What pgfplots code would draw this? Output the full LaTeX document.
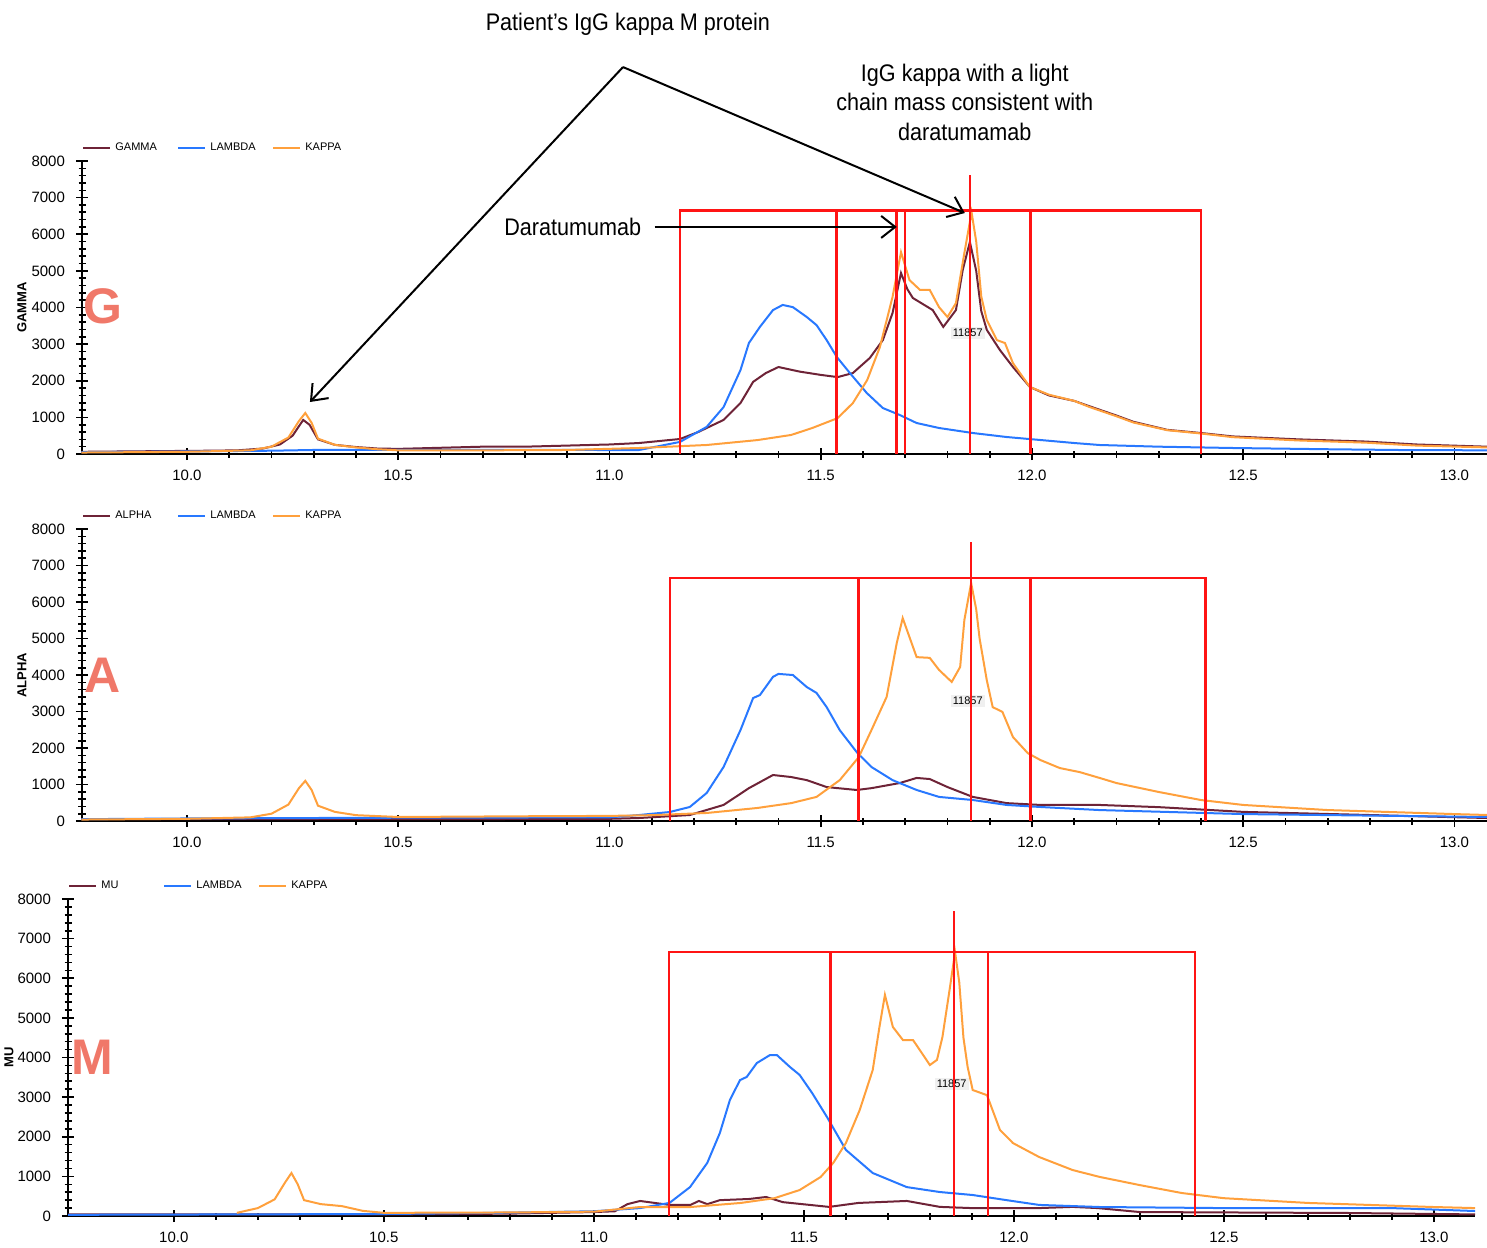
\documentclass[border=0pt]{standalone}
\usepackage{fontspec}
\setmainfont{Liberation Sans}
\newfontfamily\narrowsans[FakeStretch=0.9]{Liberation Sans}
\usepackage{pgfplots}
\pgfplotsset{compat=1.18}
\usetikzlibrary{arrows.meta}

\definecolor{hchain}{RGB}{110,35,55}
\definecolor{lambdac}{RGB}{40,120,255}
\definecolor{kappac}{RGB}{255,160,60}
\definecolor{boxred}{RGB}{255,20,20}
\definecolor{salmon}{RGB}{240,120,105}

\tikzset{
  mass/.style={fill=gray!12, inner sep=1pt, font=\fontsize{5.5}{6}\selectfont},
  bigletter/.style={text=salmon, font=\fontsize{25}{25}\selectfont\bfseries},
}
\pgfplotsset{
  msplot/.style={
    scale only axis, width=702.5pt, height=146.5pt,
    xmin=9.7515, xmax=13.077, ymin=0, ymax=8000,
    axis lines=left, axis line style={-, line width=1pt, black},
    clip=false,
    xtick={10,10.5,11,11.5,12,12.5,13}, minor x tick num=4,
    ytick={0,1000,...,8000}, minor y tick num=4,
    tick align=center, major tick length=6pt, minor tick length=3.5pt,
    every tick/.style={black, line width=0.8pt},
    /pgf/number format/assume math mode=true,
    /pgf/number format/1000 sep={},
    tick label style={font=\fontsize{7.5}{9}\selectfont},
    x tick label style={/pgf/number format/fixed, /pgf/number format/fixed zerofill,
      /pgf/number format/precision=1, yshift=-1.5pt},
    y tick label style={xshift=-2pt},
    ylabel style={font=\fontsize{6.5}{7}\selectfont\bfseries,
      at={(axis description cs:-0.0427,0.5)}, anchor=center},
    legend style={at={(0,1)}, anchor=south west, draw=none, fill=none,
      inner sep=0pt, yshift=1.5pt, legend columns=3,
      font=\fontsize{5.5}{6}\selectfont,
      /tikz/every even column/.append style={column sep=0pt}},
    legend image code/.code={\draw[#1, line width=1pt] (0pt,0pt) -- (13.5pt,0pt);},
    legend cell align=left,
  },
  heavy/.style={hchain, line width=1pt},
  lam/.style={lambdac, line width=1pt},
  kap/.style={kappac, line width=1pt},
  rbox/.style={color=boxred, line width=1.3pt, forget plot},
  rline/.style={color=boxred, line width=0.9pt, forget plot},
}

\begin{document}
\begin{tikzpicture}
\useasboundingbox (0pt,0pt) rectangle (743.5pt,-623.5pt);

% ---------------- G panel ----------------
\begin{axis}[msplot, at={(41pt,-227pt)}, anchor=south west, ylabel={GAMMA}]
\addplot[heavy] coordinates {
(9.75,60) (9.85,70) (9.95,80) (10.05,90) (10.12,100) (10.18,150) (10.22,260)
(10.25,500) (10.275,930) (10.29,800) (10.31,400) (10.35,250) (10.40,190)
(10.45,150) (10.50,140) (10.6,170) (10.7,200) (10.8,200) (10.9,230) (11.0,260)
(11.07,300) (11.167,410) (11.21,600) (11.27,930) (11.31,1390) (11.34,1970)
(11.37,2210) (11.40,2375) (11.45,2250) (11.50,2160) (11.54,2100) (11.576,2210)
(11.616,2620) (11.647,3110) (11.67,3850) (11.69,4940) (11.705,4500) (11.718,4260)
(11.765,3930) (11.79,3470) (11.82,3930) (11.836,5020) (11.853,5790)
(11.868,5000) (11.88,3900) (11.893,3390) (11.924,2840) (11.955,2375) (11.995,1830)
(12.04,1600) (12.1,1450) (12.137,1300) (12.2,1050) (12.24,880) (12.32,660)
(12.40,573) (12.475,480) (12.63,400) (12.79,340) (12.91,260) (13.077,200)};
\addlegendentry{\makebox[29pt][l]{GAMMA}}
\addplot[lam] coordinates {
(9.75,50) (9.9,60) (10.0,70) (10.2,90) (10.3,110) (10.5,110) (10.8,110)
(11.07,109) (11.167,330) (11.23,740) (11.27,1280) (11.31,2290) (11.33,3030)
(11.356,3470) (11.387,3930) (11.41,4070) (11.434,4010) (11.467,3740)
(11.49,3520) (11.514,3110) (11.538,2650) (11.569,2210) (11.609,1665)
(11.647,1255) (11.687,1065) (11.727,846) (11.78,710) (11.86,573) (11.94,464)
(12.02,382) (12.10,300) (12.16,246) (12.3,200) (12.475,164) (12.7,130)
(12.87,109) (13.077,100)};
\addlegendentry{\makebox[29pt][l]{LAMBDA}}
\addplot[kap] coordinates {
(9.75,40) (10.0,60) (10.15,100) (10.2,200) (10.24,450) (10.265,900)
(10.28,1120) (10.295,850) (10.31,420) (10.35,250) (10.4,180) (10.45,130)
(10.5,100) (10.7,100) (10.9,110) (11.07,164) (11.23,246) (11.35,380)
(11.43,520) (11.48,710) (11.54,980) (11.576,1390) (11.61,2020) (11.64,2920)
(11.67,4290) (11.69,5510) (11.71,4750) (11.735,4480) (11.758,4480)
(11.78,4010) (11.80,3740) (11.82,4120) (11.84,5490) (11.857,6600)
(11.868,5800) (11.88,4300) (11.893,3660) (11.917,3110) (11.936,3030) (11.955,2480)
(11.995,1830) (12.04,1620) (12.1,1450) (12.137,1280) (12.2,1030) (12.24,860)
(12.32,650) (12.40,560) (12.475,460) (12.63,370) (12.79,310) (12.91,230)
(13.077,180)};
\addlegendentry{\makebox[29pt][l]{KAPPA}}
\node[mass] at (axis cs:11.848,3300) {11857};
\addplot[rbox] coordinates {(11.167,0) (11.167,6650) (12.40,6650) (12.40,0)};
\addplot[rbox] coordinates {(11.538,0) (11.538,6650)};
\addplot[rbox] coordinates {(11.680,0) (11.680,6650)};
\addplot[rbox] coordinates {(11.699,0) (11.699,6650)};
\addplot[rbox] coordinates {(11.997,0) (11.997,6650)};
\addplot[rline] coordinates {(11.853,0) (11.853,7620)};
\node[bigletter] at (axis cs:9.80,4040) {G};
% annotations
\node[font=\narrowsans\fontsize{12}{14.75}\selectfont] at (axis cs:11.0435,11740)
  {Patient’s IgG kappa M protein};
\node[font=\narrowsans\fontsize{12}{14.75}\selectfont, align=center] at (axis cs:11.841,9610)
  {IgG kappa with a light\\chain mass consistent with\\daratumamab};
\draw[line width=1pt, -{Straight Barb[length=7pt,width=11pt]}]
  (axis cs:11.032,10565) -- (axis cs:10.291,1420);
\draw[line width=1pt, -{Straight Barb[length=7pt,width=11pt]}]
  (axis cs:11.032,10565) -- (axis cs:11.841,6580);
\node[font=\narrowsans\fontsize{12}{14.75}\selectfont] at (axis cs:10.913,6200) {Daratumumab};
\draw[line width=1pt, -{Straight Barb[length=7pt,width=11pt]}]
  (axis cs:11.107,6200) -- (axis cs:11.68,6200);
\end{axis}

% ---------------- A panel ----------------
\begin{axis}[msplot, at={(41pt,-410.5pt)}, anchor=south west, height=146pt, ylabel={ALPHA}]
\addplot[heavy] coordinates {
(9.75,50) (10.0,50) (10.5,50) (11.0,60) (11.07,82) (11.19,164) (11.27,440)
(11.33,900) (11.387,1260) (11.43,1205) (11.467,1120) (11.514,930) (11.585,850)
(11.62,900) (11.687,1040) (11.727,1180) (11.758,1150) (11.80,930) (11.86,660)
(11.94,490) (12.02,440) (12.16,440) (12.3,380) (12.5,250) (12.8,164)
(13.077,82)};
\addlegendentry{\makebox[29pt][l]{ALPHA}}
\addplot[lam] coordinates {
(9.75,50) (10.0,70) (10.5,90) (11.0,100) (11.07,164) (11.143,247) (11.19,384)
(11.23,767) (11.27,1480) (11.31,2490) (11.34,3370) (11.356,3450) (11.387,3950)
(11.40,4030) (11.434,4000) (11.467,3670) (11.49,3510) (11.514,3120)
(11.545,2490) (11.585,1890) (11.62,1480) (11.67,1120) (11.727,850) (11.78,660)
(11.86,575) (11.94,440) (12.02,384) (12.16,300) (12.5,190) (13.077,110)};
\addlegendentry{\makebox[29pt][l]{LAMBDA}}
\addplot[kap] coordinates {
(9.75,40) (10.0,60) (10.15,100) (10.2,200) (10.24,450) (10.265,900)
(10.28,1100) (10.295,850) (10.31,420) (10.35,250) (10.4,160) (10.5,110)
(10.8,130) (11.0,140) (11.1,160) (11.23,220) (11.35,357) (11.43,490)
(11.49,660) (11.545,1120) (11.59,1750) (11.62,2490) (11.656,3400) (11.68,4880)
(11.694,5560) (11.71,5040) (11.727,4490) (11.758,4470) (11.78,4140)
(11.81,3810) (11.83,4220) (11.84,5510) (11.856,6520) (11.868,5800) (11.876,5000)
(11.893,3860) (11.907,3120) (11.93,2990) (11.955,2300) (11.99,1860)
(12.02,1670) (12.066,1450) (12.113,1340) (12.16,1180) (12.2,1040) (12.3,795)
(12.4,575) (12.5,440) (12.7,300) (13.0,190) (13.077,165)};
\addlegendentry{\makebox[29pt][l]{KAPPA}}
\node[mass] at (axis cs:11.848,3290) {11857};
\addplot[rbox] coordinates {(11.143,0) (11.143,6657) (12.41,6657) (12.41,0)};
\addplot[rbox] coordinates {(11.59,0) (11.59,6657)};
\addplot[rbox] coordinates {(11.997,0) (11.997,6657)};
\addplot[rline] coordinates {(11.856,0) (11.856,7640)};
\node[bigletter] at (axis cs:9.80,4000) {A};
\end{axis}

% ---------------- M panel ----------------
\begin{axis}[msplot, at={(34pt,-608pt)}, anchor=south west, width=703.5pt, height=158.5pt,
  xmin=9.748, xmax=13.098, ylabel={MU},
  ylabel style={at={(axis description cs:-0.042,0.5)}}]
\addplot[heavy] coordinates {
(9.748,40) (10.5,40) (10.8,60) (11.0,100) (11.05,120) (11.08,300) (11.11,380)
(11.18,280) (11.23,280) (11.25,380) (11.27,300) (11.30,400) (11.37,430)
(11.41,480) (11.45,350) (11.56,230) (11.63,330) (11.745,380) (11.824,230)
(11.90,200) (12.06,200) (12.14,230) (12.2,200) (12.3,100) (12.8,76)
(13.098,40)};
\addlegendentry{\makebox[29pt][l]{MU}}
\addplot[lam] coordinates {
(9.748,30) (10.5,50) (10.77,80) (11.0,120) (11.11,200) (11.18,330)
(11.229,730) (11.27,1340) (11.30,2095) (11.324,2930) (11.348,3430)
(11.364,3510) (11.388,3860) (11.419,4060) (11.436,4060) (11.467,3760)
(11.49,3560) (11.52,3100) (11.555,2500) (11.60,1670) (11.664,1085)
(11.745,730) (11.824,605) (11.902,530) (11.983,400) (12.06,280) (12.205,227)
(12.5,200) (12.9,200) (13.098,126)};
\addlegendentry{\makebox[29pt][l]{LAMBDA}}
\addplot[kap] coordinates {
(10.15,80) (10.2,200) (10.24,420) (10.265,850) (10.28,1085) (10.295,800)
(10.31,400) (10.35,300) (10.4,250) (10.45,130) (10.5,80) (10.8,90) (11.0,110)
(11.11,227) (11.23,227) (11.35,330) (11.43,450) (11.49,656) (11.54,985)
(11.57,1340) (11.60,1840) (11.633,2675) (11.664,3685) (11.68,4770)
(11.693,5580) (11.712,4770) (11.736,4440) (11.76,4440) (11.776,4190)
(11.80,3810) (11.817,3940) (11.83,4520) (11.848,5780) (11.86,6660)
(11.87,5900) (11.88,4500) (11.89,3760) (11.902,3180) (11.936,3050) (11.967,2170)
(11.998,1840) (12.06,1490) (12.14,1160) (12.205,985) (12.3,780) (12.4,580)
(12.5,450) (12.7,330) (13.0,227) (13.098,200)};
\addlegendentry{\makebox[29pt][l]{KAPPA}}
\node[mass] at (axis cs:11.852,3330) {11857};
\addplot[rbox] coordinates {(11.179,0) (11.179,6662) (12.431,6662) (12.431,0)};
\addplot[rbox] coordinates {(11.564,0) (11.564,6662)};
\addplot[rbox] coordinates {(11.938,0) (11.938,6662)};
\addplot[rline] coordinates {(11.857,0) (11.857,7700)};
\node[bigletter] at (axis cs:9.805,4013) {M};
\end{axis}
\end{tikzpicture}
\end{document}
